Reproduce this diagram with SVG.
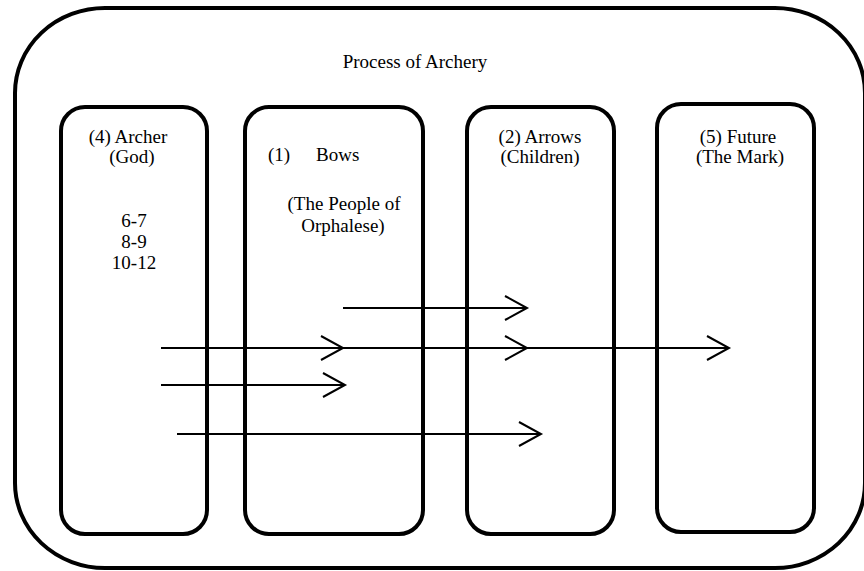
<svg xmlns="http://www.w3.org/2000/svg" width="864" height="571" viewBox="0 0 864 571">
  <style>
    .box { fill: none; stroke: #000; stroke-width: 4; }
    .t { font-family: "Liberation Serif", "Times New Roman", serif; font-size: 19px; fill: #000; }
    .c { text-anchor: middle; }
    .conn { stroke: #000; stroke-width: 2; fill: none; marker-end: url(#chev); }
  </style>
  <defs>
    <marker id="chev" markerUnits="userSpaceOnUse" markerWidth="26" markerHeight="28" refX="22" refY="13" orient="auto" overflow="visible">
      <path d="M0,1 L22,13 L0,25" fill="none" stroke="#000" stroke-width="2"/>
    </marker>
  </defs>
  <rect width="864" height="571" fill="#fff"/>
  <g id="process">
    <rect class="box" x="15" y="8" width="850" height="560" rx="90" ry="85"/>
    <text class="t c" x="415" y="68">Process of Archery</text>
  </g>
  <g id="archer">
    <rect class="box" x="61" y="107" width="146" height="427" rx="24" ry="24"/>
    <text class="t c" x="128" y="143">(4) Archer</text>
    <text class="t c" x="132" y="163">(God)</text>
    <text class="t c" x="134" y="227">6-7</text>
    <text class="t c" x="134" y="248">8-9</text>
    <text class="t c" x="134" y="269">10-12</text>
  </g>
  <g id="bows">
    <rect class="box" x="245" y="107" width="178" height="427" rx="24" ry="24"/>
    <text class="t" x="268" y="161">(1)</text>
    <text class="t" x="316" y="161">Bows</text>
    <text class="t c" x="344" y="210">(The People of</text>
    <text class="t c" x="343" y="232">Orphalese)</text>
  </g>
  <g id="arrows">
    <rect class="box" x="467" y="107" width="147" height="427" rx="24" ry="24"/>
    <text class="t c" x="540" y="143">(2) Arrows</text>
    <text class="t c" x="540" y="163">(Children)</text>
  </g>
  <g id="future">
    <rect class="box" x="657" y="104" width="157" height="428" rx="24" ry="24"/>
    <text class="t c" x="738" y="143">(5) Future</text>
    <text class="t c" x="740" y="163">(The Mark)</text>
  </g>
  <g id="connectors">
    <line class="conn" x1="343" y1="308" x2="527" y2="308"/>
    <line class="conn" x1="161" y1="348" x2="343" y2="348"/>
    <line class="conn" x1="343" y1="348" x2="527" y2="348"/>
    <line class="conn" x1="527" y1="348" x2="729" y2="348"/>
    <line class="conn" x1="161" y1="385" x2="345" y2="385"/>
    <line class="conn" x1="177" y1="434" x2="541" y2="434"/>
  </g>
</svg>
